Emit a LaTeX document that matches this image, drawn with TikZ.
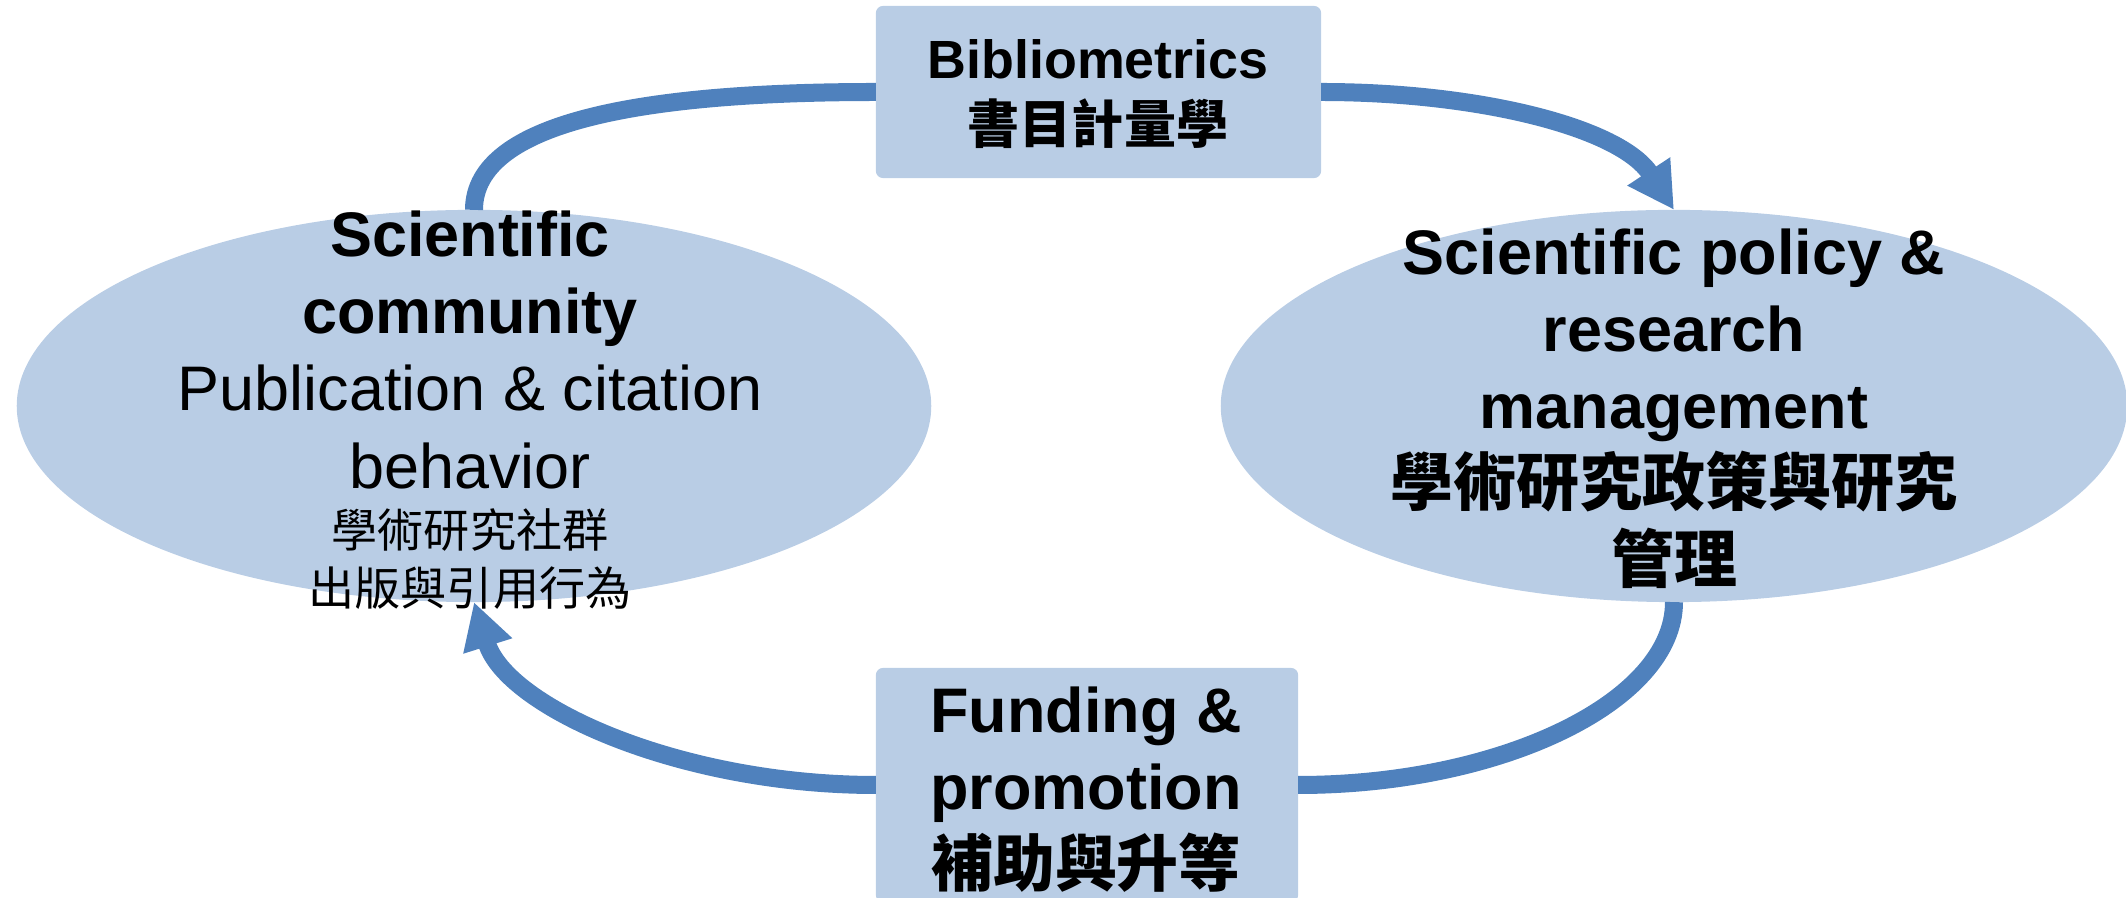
\documentclass[tikz,border=0pt]{standalone}
\usepackage{fontspec}
\setmainfont{Liberation Sans}
\newfontfamily\cjk{Noto Sans CJK TC}
\usetikzlibrary{arrows.meta,shapes.geometric}
\definecolor{shapefill}{HTML}{B9CDE5}
\definecolor{arrowblue}{HTML}{4F81BD}
\begin{document}
\begin{tikzpicture}[x=0.01cm,y=-0.01cm,
  oval/.style={ellipse,fill=shapefill,inner sep=0pt,outer sep=0pt},
  panel/.style={rectangle,fill=shapefill,rounded corners=2pt,inner sep=0pt,outer sep=0pt},
  txt/.style={align=center,inner sep=0pt,text=black},
  flow/.style={draw=arrowblue,line width=0.18cm},
  flowtip/.style={flow,-{Triangle[length=0.46cm,width=0.48cm]}}]
\useasboundingbox (0,0) rectangle (2126,898);

% shapes
\node[oval,minimum width=9.14cm,minimum height=3.92cm] (le) at (474,406) {};
\node[oval,minimum width=9.06cm,minimum height=3.92cm] (re) at (1674,406) {};
\node[panel,minimum width=4.45cm,minimum height=1.72cm] (tb) at (1098.5,92) {};
\node[panel,minimum width=4.22cm,minimum height=2.34cm] (bb) at (1087,785) {};

% texts
\node[txt,font=\fontsize{17.9pt}{21.9pt}\selectfont] (leen) at (470,350)
  {\textbf{Scientific}\\\textbf{community}\\Publication \& citation\\behavior};
\node[txt,font=\fontsize{13.1pt}{16.5pt}\selectfont\cjk] (lezh) at (470,559)
  {學術研究社群\\出版與引用行為};
\node[txt,font=\fontsize{17.9pt}{21.9pt}\selectfont\bfseries] (retx) at (1674,409)
  {Scientific policy \&\\research\\management\\{\cjk 學術研究政策與研究}\\{\cjk 管理}};
\node[txt,font=\fontsize{15.3pt}{18.5pt}\selectfont\bfseries] (tbtx) at (1098,94)
  {Bibliometrics\\{\fontsize{14.8pt}{18.5pt}\selectfont\cjk 書目計量學}};
\node[txt,font=\fontsize{17.9pt}{21.9pt}\selectfont\bfseries] (bbtx) at (1086,790)
  {Funding \&\\promotion\\{\fontsize{17.6pt}{21.9pt}\selectfont\cjk 補助與升等}};

% connectors
\draw[flow] (tb.west) .. controls +(-226,0) and +(0,-90) .. (le.north);
\draw[flowtip] (tb.east) .. controls +(159,0) and +(-54,-82) .. (re.north);
\draw[flow] (re.south) .. controls +(0,100) and +(202,0) .. (bb.east);
\draw[flowtip] (bb.west) .. controls +(-196,0) and +(33,105) .. (le.south);
\end{tikzpicture}
\end{document}
